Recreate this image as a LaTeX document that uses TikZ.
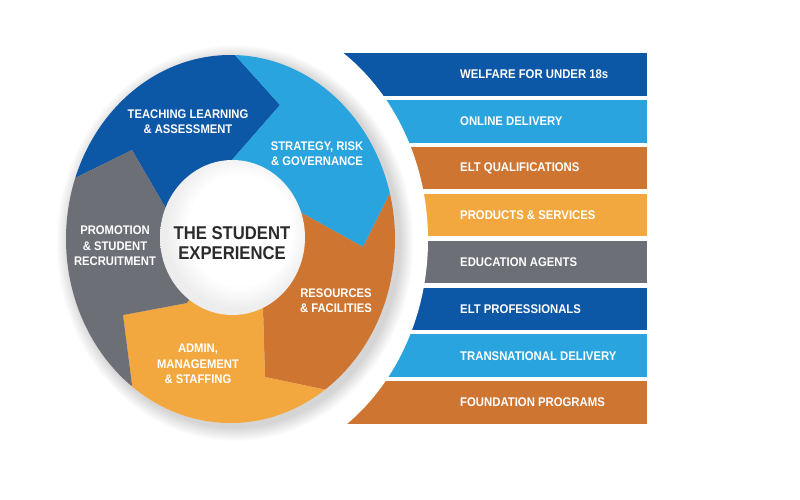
\documentclass[tikz,border=0pt]{standalone}
\usepackage{graphicx}
\usepackage{fontspec}
\setmainfont{Liberation Sans}
\definecolor{dblue}{HTML}{0D57A7}
\definecolor{lblue}{HTML}{29A4DE}
\definecolor{rust}{HTML}{CF7532}
\definecolor{amber}{HTML}{F2A83F}
\definecolor{slate}{HTML}{6C6F76}
\definecolor{ink}{HTML}{2B2B2B}
\newcommand{\sqz}[1]{\scalebox{0.9}[1]{#1}}
\newcommand{\lines}[1]{\sqz{\begin{tabular}{@{}c@{}}#1\end{tabular}}}
\pgfdeclareradialshading{ballshade}{\pgfpoint{4bp}{4bp}}{color(0bp)=(white); color(18bp)=(white); color(25bp)=(gray!14); color(50bp)=(gray!14)}
\tikzset{
  seglabel/.style={text=white, font=\fontsize{12.5}{15.5}\selectfont\bfseries, inner sep=0pt},
  corelabel/.style={text=ink, font=\fontsize{18.5}{20}\selectfont\bfseries, inner sep=0pt},
  barbox/.style={minimum width=347pt, minimum height=42.6pt, inner sep=0pt, draw=none},
  barlabel/.style={text=white, font=\fontsize{12.6}{15}\selectfont\bfseries, anchor=west, inner sep=0pt},
}
\begin{document}
\begin{tikzpicture}[x=1pt,y=-1pt]
\useasboundingbox (0,0) rectangle (800,500);
\fill[white] (0,0) rectangle (800,500);
% bars
\node[barbox, fill=dblue] (b1) at (473.5,74.3) {};
\node[barbox, fill=lblue] (b2) at (473.5,121.2) {};
\node[barbox, fill=rust]  (b3) at (473.5,168.1) {};
\node[barbox, fill=amber] (b4) at (473.5,215.0) {};
\node[barbox, fill=slate] (b5) at (473.5,261.9) {};
\node[barbox, fill=dblue] (b6) at (473.5,308.8) {};
\node[barbox, fill=lblue] (b7) at (473.5,355.7) {};
\node[barbox, fill=rust]  (b8) at (473.5,402.6) {};
% white cut
\fill[white] (230,240) ellipse [x radius=198pt, y radius=228pt];
% wheel shadow
\foreach \k in {1,...,14}
  \fill[black, opacity=0.012] (235,243) ellipse [x radius={164.5pt+\k pt}, y radius={184pt+\k pt}];
% boundary points
\coordinate (C) at (230,239);
\coordinate (I1) at (168,212); \coordinate (T1) at (132,150); \coordinate (O1) at (75,178);  \coordinate (F1) at (-235,56);
\coordinate (I2) at (232,160); \coordinate (T2) at (280,105); \coordinate (O2) at (235,55);  \coordinate (F2) at (245,-313);
\coordinate (I3) at (300,212); \coordinate (T3) at (363,247); \coordinate (O3) at (393,187); \coordinate (F3) at (719,83);
\coordinate (I4) at (263,309); \coordinate (T4) at (265,377); \coordinate (O4) at (327,390); \coordinate (F4) at (521,692);
\coordinate (I5) at (187,303); \coordinate (T5) at (123,315); \coordinate (O5) at (132,385); \coordinate (F5) at (-64,677);
\begin{scope}
  \clip (230.5,239) ellipse [x radius=164.5pt, y radius=184pt];
  \fill[dblue] (C) -- (I1) -- (T1) -- (O1) -- (F1) -- (F2) -- (O2) -- (T2) -- (I2) -- cycle;
  \fill[lblue] (C) -- (I2) -- (T2) -- (O2) -- (F2) -- (F3) -- (O3) -- (T3) -- (I3) -- cycle;
  \fill[rust]  (C) -- (I3) -- (T3) -- (O3) -- (F3) -- (F4) -- (O4) -- (T4) -- (I4) -- cycle;
  \fill[amber] (C) -- (I4) -- (T4) -- (O4) -- (F4) -- (F5) -- (O5) -- (T5) -- (I5) -- cycle;
  \fill[slate] (C) -- (I5) -- (T5) -- (O5) -- (F5) -- (F1) -- (O1) -- (T1) -- (I1) -- cycle;
\end{scope}
% centre disc
\shade[shading=ballshade] (232.5,237.5) ellipse [x radius=72.5pt, y radius=77.5pt];
% wheel labels
\node[seglabel] (teach) at (188,123) {\lines{TEACHING LEARNING\\\& ASSESSMENT}};
\node[seglabel] (strat) at (317,155) {\lines{STRATEGY, RISK\\\& GOVERNANCE}};
\node[seglabel] (promo) at (115,247) {\lines{PROMOTION\\\& STUDENT\\RECRUITMENT}};
\node[seglabel] (resou) at (336,302) {\lines{RESOURCES\\\& FACILITIES}};
\node[seglabel] (admin) at (198,365) {\lines{ADMIN,\\MANAGEMENT\\\& STAFFING}};
\node[corelabel] (core) at (232,245.5) {\lines{THE STUDENT\\EXPERIENCE}};
% bar labels
\node[barlabel] (t1) at (460,74.3) {\sqz{WELFARE FOR UNDER 18s}};
\node[barlabel] (t2) at (460,121.2) {\sqz{ONLINE DELIVERY}};
\node[barlabel] (t3) at (460,168.1) {\sqz{ELT QUALIFICATIONS}};
\node[barlabel] (t4) at (460,215.0) {\sqz{PRODUCTS \& SERVICES}};
\node[barlabel] (t5) at (460,261.9) {\sqz{EDUCATION AGENTS}};
\node[barlabel] (t6) at (460,308.8) {\sqz{ELT PROFESSIONALS}};
\node[barlabel] (t7) at (460,355.7) {\sqz{TRANSNATIONAL DELIVERY}};
\node[barlabel] (t8) at (460,402.6) {\sqz{FOUNDATION PROGRAMS}};
\end{tikzpicture}
\end{document}
